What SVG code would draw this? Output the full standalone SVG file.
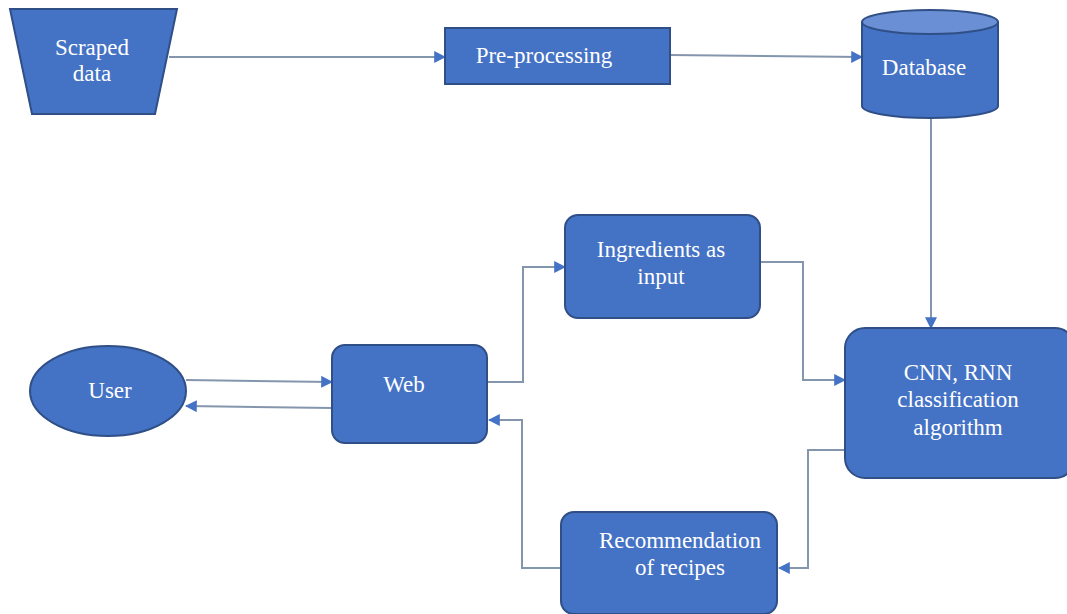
<svg xmlns="http://www.w3.org/2000/svg" width="1067" height="614" viewBox="0 0 1067 614">
<style>
.n{fill:#4472c4;stroke:#2f4f86;stroke-width:2}
.t{font-family:'Liberation Serif','Times New Roman','DejaVu Serif',serif;font-size:23px;fill:#fff;text-anchor:middle}
.c{fill:none;stroke:#8496ad;stroke-width:2}
</style>
<defs>
<marker id="a" viewBox="0 0 10 10" refX="9" refY="5" markerWidth="6" markerHeight="6" orient="auto" markerUnits="strokeWidth">
<path d="M0,0 L10,5 L0,10 z" fill="#4472c4"/>
</marker>
</defs>
<rect width="1067" height="614" fill="#fff"/>
<g id="connectors">
<path class="c" marker-end="url(#a)" d="M169,57 L445,57"/>
<path class="c" marker-end="url(#a)" d="M670,55 L862,57"/>
<path class="c" marker-end="url(#a)" d="M931,119 L931,328"/>
<path class="c" marker-end="url(#a)" d="M186,380 L332,382"/>
<path class="c" marker-end="url(#a)" d="M332,408 L186,406"/>
<path class="c" marker-end="url(#a)" d="M487,382 L523,382 L523,267 L565,267"/>
<path class="c" marker-end="url(#a)" d="M760,262 L803,262 L803,380 L845,380"/>
<path class="c" marker-end="url(#a)" d="M845,450 L808,450 L808,568 L779,568"/>
<path class="c" marker-end="url(#a)" d="M561,568 L522,568 L522,420 L489,420"/>
</g>
<g id="scraped">
<path class="n" d="M10,9 L177,9 L155,114 L32,114 Z"/>
<text class="t" x="92" y="55" font-family="Liberation Serif">Scraped</text>
<text class="t" x="92" y="81" font-family="Liberation Serif">data</text>
</g>
<g id="preprocessing">
<rect class="n" x="445" y="28" width="225" height="56"/>
<text class="t" x="544" y="63">Pre-processing</text>
</g>
<g id="database">
<path class="n" d="M862,22 L862,106 A68,12 0 0 0 998,106 L998,22"/>
<ellipse class="n" cx="930" cy="22" rx="68" ry="12" style="fill:#6a8fd4"/>
<text class="t" x="924" y="75">Database</text>
</g>
<g id="ingredients">
<rect class="n" x="565" y="215" width="195" height="103" rx="13"/>
<text class="t" x="661" y="257">Ingredients as</text>
<text class="t" x="661" y="284">input</text>
</g>
<g id="cnn">
<rect class="n" x="845" y="328" width="230" height="150" rx="20"/>
<text class="t" x="958" y="380">CNN, RNN</text>
<text class="t" x="958" y="407">classification</text>
<text class="t" x="958" y="435">algorithm</text>
</g>
<g id="user">
<ellipse class="n" cx="108" cy="391" rx="78" ry="45"/>
<text class="t" x="110" y="398">User</text>
</g>
<g id="web">
<rect class="n" x="332" y="345" width="155" height="98" rx="13"/>
<text class="t" x="404" y="392">Web</text>
</g>
<g id="recommendation">
<rect class="n" x="561" y="512" width="216" height="102" rx="13"/>
<text class="t" x="680" y="548">Recommendation</text>
<text class="t" x="680" y="575">of recipes</text>
</g>
</svg>
